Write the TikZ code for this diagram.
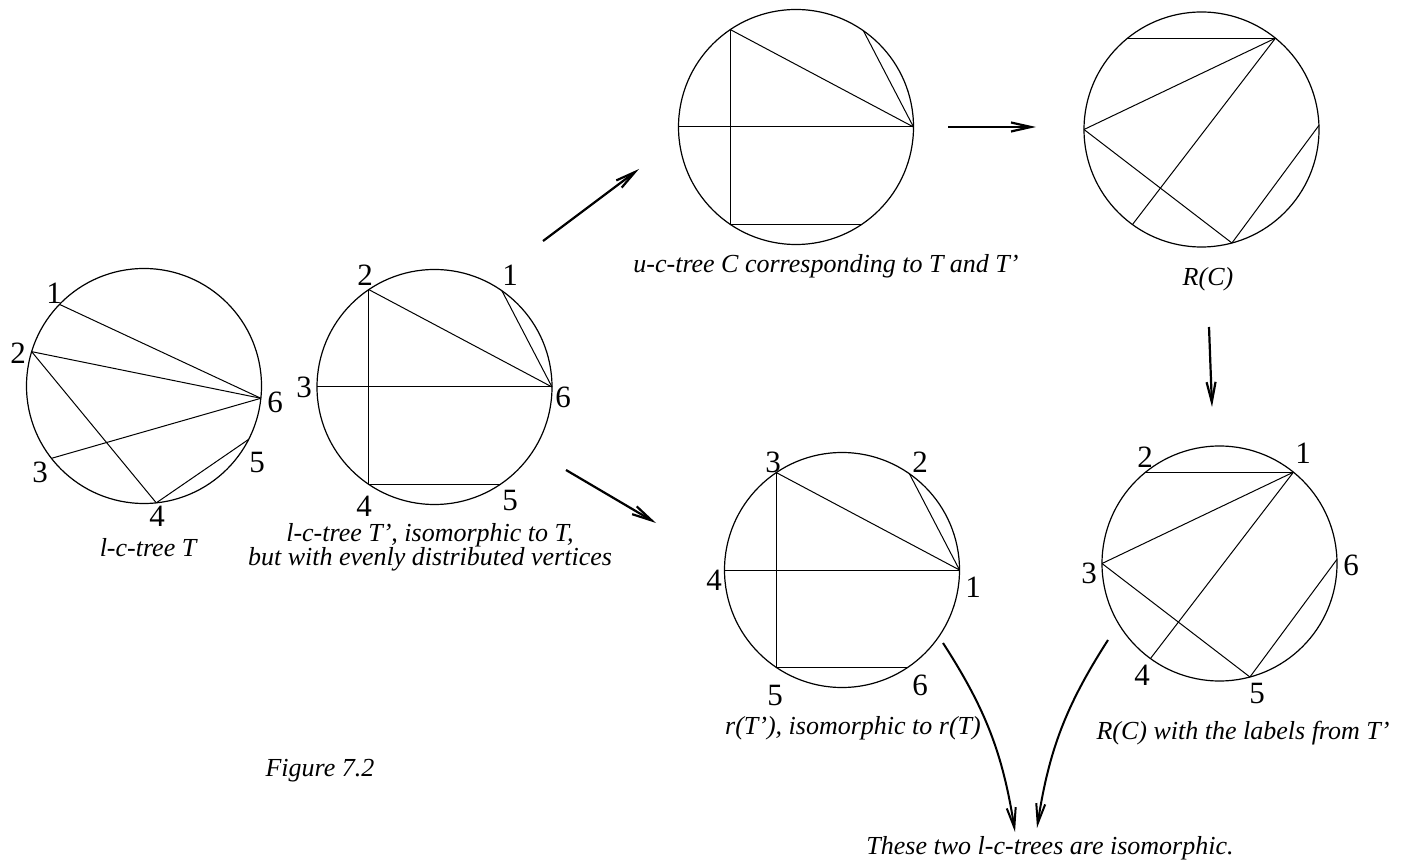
\documentclass[tikz,border=0pt]{standalone}
\usepackage{fontspec}
\setmainfont{Liberation Serif}
\usetikzlibrary{arrows.meta}

\begin{document}
\begin{tikzpicture}[x=0.5pt,y=0.5pt,
  disc/.style={draw,circle,line width=0.6pt,minimum size=117.5pt,
    inner sep=0pt,outer sep=0pt},
  chord/.style={line width=0.5pt},
  num/.style={font=\fontsize{15.5}{16}\selectfont,inner sep=0pt},
  caption/.style={font=\fontsize{13}{12}\selectfont\itshape,
    align=center,inner sep=0pt},
  flow/.style={-{Straight Barb[length=10pt,width=4.5pt]},line width=1.1pt},
  bendflow/.style={flow,line width=1pt}]
\useasboundingbox (0,0) rectangle (1407,-865);

\node[disc] (T) at (144,-386) {};
\draw[chord] (T.136)--(T.-6);
\draw[chord] (T.163)--(T.-6);
\draw[chord] (T.163)--(T.-84);
\draw[chord] (T.218)--(T.-6);
\draw[chord] (T.-84)--(T.-27);
\node[num] (t1) at (54,-293) {1};
\node[num] (t2) at (18,-353) {2};
\node[num] (t3) at (40,-472) {3};
\node[num] (t4) at (157,-516) {4};
\node[num] (t5) at (257,-463) {5};
\node[num] (t6) at (275,-402) {6};
\node[caption] (capT) at (148,-548) {l-c-tree T};

\node[disc] (Tp) at (434.5,-387) {};
\draw[chord] (Tp.124)--(Tp.0);
\draw[chord] (Tp.55)--(Tp.0);
\draw[chord] (Tp.180)--(Tp.0);
\draw[chord] (Tp.124)--(Tp.236);
\draw[chord] (Tp.236)--(Tp.304);
\node[num] (tp1) at (510,-275) {1};
\node[num] (tp2) at (365,-275) {2};
\node[num] (tp3) at (304,-387) {3};
\node[num] (tp4) at (364,-506) {4};
\node[num] (tp5) at (510,-501) {5};
\node[num] (tp6) at (563,-397) {6};
\node[caption] (capTp) at (430,-547) {l-c-tree T’, isomorphic to T,\\but with evenly distributed vertices};

\node[disc] (C) at (796,-127) {};
\draw[chord] (C.124)--(C.0);
\draw[chord] (C.55)--(C.0);
\draw[chord] (C.180)--(C.0);
\draw[chord] (C.124)--(C.236);
\draw[chord] (C.236)--(C.304);
\node[caption] (capC) at (826,-266) {u-c-tree C corresponding to T and T’};

\node[disc] (RC) at (1201.5,-129.5) {};
\draw[chord] (RC.129)--(RC.51);
\draw[chord] (RC.51)--(RC.180);
\draw[chord] (RC.51)--(RC.234);
\draw[chord] (RC.180)--(RC.-75);
\draw[chord] (RC.-75)--(RC.2);
\node[caption] (capR) at (1208,-279) {R(C)};

\node[disc] (rT) at (842,-570) {};
\draw[chord] (rT.124)--(rT.0);
\draw[chord] (rT.55)--(rT.0);
\draw[chord] (rT.180)--(rT.0);
\draw[chord] (rT.124)--(rT.236);
\draw[chord] (rT.236)--(rT.304);
\node[num] (r1) at (973,-587) {1};
\node[num] (r2) at (920,-462) {2};
\node[num] (r3) at (773,-462) {3};
\node[num] (r4) at (714,-580) {4};
\node[num] (r5) at (775,-695) {5};
\node[num] (r6) at (920,-685) {6};
\node[caption] (caprT) at (853,-728) {r(T’), isomorphic to r(T)};

\node[disc] (RL) at (1219.5,-563.5) {};
\draw[chord] (RL.129)--(RL.51);
\draw[chord] (RL.51)--(RL.180);
\draw[chord] (RL.51)--(RL.234);
\draw[chord] (RL.180)--(RL.-75);
\draw[chord] (RL.-75)--(RL.2);
\node[num] (l1) at (1303,-453) {1};
\node[num] (l2) at (1145,-457) {2};
\node[num] (l3) at (1089,-573) {3};
\node[num] (l4) at (1142,-675) {4};
\node[num] (l5) at (1257,-693) {5};
\node[num] (l6) at (1351,-565) {6};
\node[caption] (capRL) at (1243,-733) {R(C) with the labels from T’};

\node[caption] (fig) at (320,-771) {Figure 7.2};
\node[caption] (concl) at (1050,-848) {These two l-c-trees are isomorphic.};

\coordinate (up_s) at (543,-241);
\coordinate (up_e) at (639,-169);
\coordinate (rt_s) at (948,-127);
\coordinate (rt_e) at (1036,-127);
\coordinate (dn_s) at (1209,-327);
\coordinate (dn_e) at (1212,-407);
\coordinate (lo_s) at (566,-470);
\coordinate (lo_e) at (656,-523);
\coordinate (cl_s) at (943,-643);
\coordinate (cl_e) at (1015,-832);
\coordinate (cr_s) at (1108,-640);
\coordinate (cr_e) at (1037,-828);
\draw[flow] (up_s)--(up_e);
\draw[flow] (rt_s)--(rt_e);
\draw[flow] (dn_s)--(dn_e);
\draw[flow] (lo_s)--(lo_e);
\draw[bendflow] (cl_s) to[bend left=12] (cl_e);
\draw[bendflow] (cr_s) to[bend right=12] (cr_e);
\end{tikzpicture}
\end{document}
